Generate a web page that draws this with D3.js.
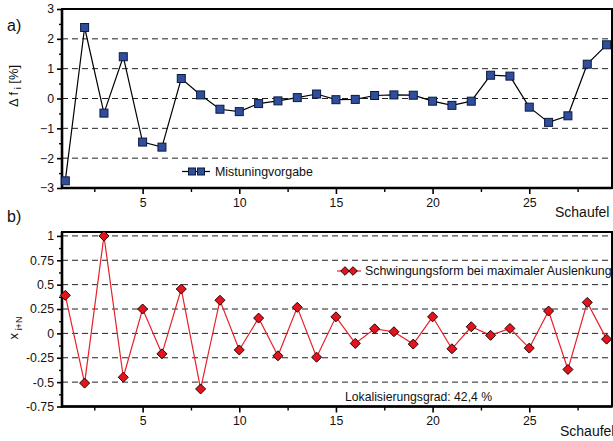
<!DOCTYPE html>
<html>
<head>
<meta charset="utf-8">
<script src="https://cdn.jsdelivr.net/npm/d3@7"></script>
<style>
  html, body { margin: 0; padding: 0; background: #fff; }
  svg { display: block; font-family: "Liberation Sans", Arial, Helvetica, sans-serif; }
</style>
</head>
<body>
<svg id="chart" width="613" height="441"></svg>
<script>
// ---------- data ----------
const blades = d3.range(1, 30);
const mistuning = [-2.76, 2.38, -0.49, 1.40, -1.46, -1.63, 0.67, 0.12, -0.36, -0.44,
  -0.17, -0.08, 0.03, 0.15, -0.04, -0.03, 0.10, 0.12, 0.11, -0.09,
  -0.23, -0.09, 0.78, 0.75, -0.29, -0.80, -0.58, 1.15, 1.80];
const modeShape = [0.39, -0.51, 1.00, -0.45, 0.25, -0.21, 0.455, -0.57, 0.34, -0.17,
  0.157, -0.23, 0.267, -0.244, 0.17, -0.103, 0.047, 0.017, -0.11, 0.17,
  -0.158, 0.068, -0.02, 0.051, -0.151, 0.229, -0.37, 0.318, -0.059];
const xTicks = [5, 10, 15, 20, 25];
const xMinor = [2.5, 7.5, 12.5, 17.5, 22.5, 27.5];
const yTicksA = [-3, -2, -1, 0, 1, 2, 3];
const yMinorA = [-2.5, -1.5, -0.5, 0.5, 1.5, 2.5];
const yGridA = [-2, -1, 0, 1, 2];
const yTicksB = [-0.75, -0.5, -0.25, 0, 0.25, 0.5, 0.75, 1];
const yMinorB = [-0.625, -0.375, -0.125, 0.125, 0.375, 0.625, 0.875];
const yGridB = [-0.5, -0.25, 0, 0.25, 0.5, 0.75, 1];
const legendA = "Mistuningvorgabe";
const legendB = "Schwingungsform bei maximaler Auslenkung";
const noteB = "Lokalisierungsgrad: 42,4 %";
const xTitle = "Schaufel";

const svg = d3.select("#chart");
const L = 62, R = 612;
const x = d3.scaleLinear().domain([0.83, 29.28]).range([L, R]);
const yA = d3.scaleLinear().domain([-3, 3]).range([188, 9]);
const yB = d3.scaleLinear().domain([-0.75, 1.04]).range([406.5, 232]);

const fmtB = d => d === 0 ? "0" : String(d);

function panel(y, yTicks, yMinor, yGrid, fmt, top, bottom) {
  const g = svg.append("g");
  // grid
  g.selectAll("line.grid").data(yGrid).enter().append("line")
    .attr("x1", L).attr("x2", R)
    .attr("y1", d => y(d)).attr("y2", d => y(d))
    .attr("stroke", "#222").attr("stroke-width", 1)
    .attr("stroke-dasharray", "6,4");
  // x axis
  const xa = g.append("g").attr("transform", `translate(0,${bottom})`)
    .call(d3.axisBottom(x).tickValues(xTicks).tickSize(6).tickPadding(4).tickFormat(d3.format("d")));
  xa.select(".domain").remove();
  xa.selectAll(".tick line").attr("stroke", "#000").attr("stroke-width", 1.6);
  xa.selectAll("text").attr("font-size", 12.3).attr("fill", "#111");
  const xm = g.append("g").attr("transform", `translate(0,${bottom})`)
    .call(d3.axisBottom(x).tickValues(xMinor).tickSize(4).tickFormat(""));
  xm.select(".domain").remove();
  xm.selectAll(".tick line").attr("stroke", "#000").attr("stroke-width", 1.4);
  // y axis
  const ya = g.append("g").attr("transform", `translate(${L},0)`)
    .call(d3.axisLeft(y).tickValues(yTicks).tickSize(5).tickPadding(3).tickFormat(fmt));
  ya.select(".domain").remove();
  ya.selectAll(".tick line").attr("stroke", "#000").attr("stroke-width", 1.6);
  ya.selectAll("text").attr("font-size", 12.3).attr("fill", "#111");
  const ym = g.append("g").attr("transform", `translate(${L},0)`)
    .call(d3.axisLeft(y).tickValues(yMinor).tickSize(3).tickFormat(""));
  ym.select(".domain").remove();
  ym.selectAll(".tick line").attr("stroke", "#000").attr("stroke-width", 1.4);
  // frame
  g.append("rect").attr("x", L).attr("y", top).attr("width", R - L).attr("height", bottom - top)
    .attr("fill", "none").attr("stroke", "#000").attr("stroke-width", 2);
  g.append("line").attr("x1", L).attr("x2", L).attr("y1", top).attr("y2", bottom + 1)
    .attr("stroke", "#000").attr("stroke-width", 2.6);
  g.append("line").attr("x1", L - 1).attr("x2", R).attr("y1", bottom).attr("y2", bottom)
    .attr("stroke", "#000").attr("stroke-width", 2.6);
  return g;
}

// ---------- panel a ----------
const gA = panel(yA, yTicksA, yMinorA, yGridA, d3.format("d"), 9, 188);
gA.append("path").datum(mistuning)
  .attr("fill", "none").attr("stroke", "#000").attr("stroke-width", 1.2)
  .attr("d", d3.line().x((d, i) => x(blades[i])).y(d => yA(d)));
const sq = 8;
gA.selectAll("rect.pt").data(mistuning).enter().append("rect")
  .attr("x", (d, i) => x(blades[i]) - sq / 2).attr("y", d => yA(d) - sq / 2)
  .attr("width", sq).attr("height", sq)
  .attr("fill", "#2F4E9C").attr("stroke", "#0d1a3a").attr("stroke-width", 1);
// legend a
svg.append("line").attr("x1", 182).attr("x2", 210).attr("y1", 171.5).attr("y2", 171.5)
  .attr("stroke", "#000").attr("stroke-width", 1.2);
[192, 201].forEach(cx => svg.append("rect").attr("x", cx - 3.5).attr("y", 171.5 - 3.5)
  .attr("width", 7).attr("height", 7).attr("fill", "#2F4E9C").attr("stroke", "#0d1a3a").attr("stroke-width", 1));
svg.append("text").attr("x", 215).attr("y", 171.5).attr("dy", "0.35em")
  .attr("font-size", 12.4).attr("fill", "#111").text(legendA);

// ---------- panel b ----------
const gB = panel(yB, yTicksB, yMinorB, yGridB, fmtB, 232, 406.5);
gB.append("path").datum(modeShape)
  .attr("fill", "none").attr("stroke", "#E8202A").attr("stroke-width", 1.2)
  .attr("d", d3.line().x((d, i) => x(blades[i])).y(d => yB(d)));
const dm = 5;
const diamond = (cx, cy, r) => `M${cx},${cy - r}L${cx + r},${cy}L${cx},${cy + r}L${cx - r},${cy}Z`;
gB.selectAll("path.pt").data(modeShape).enter().append("path")
  .attr("d", (d, i) => diamond(x(blades[i]), yB(d), dm))
  .attr("fill", "#E3141E").attr("stroke", "#200").attr("stroke-width", 1);
// legend b
svg.append("line").attr("x1", 337).attr("x2", 361).attr("y1", 271).attr("y2", 271)
  .attr("stroke", "#E8202A").attr("stroke-width", 1.2);
[345, 353].forEach(cx => svg.append("path").attr("d", diamond(cx, 271, 4.3))
  .attr("fill", "#E3141E").attr("stroke", "#200").attr("stroke-width", 1));
svg.append("text").attr("x", 365).attr("y", 271).attr("dy", "0.35em")
  .attr("font-size", 12.4).attr("fill", "#111").text(legendB);
svg.append("text").attr("x", 345).attr("y", 397).attr("dy", "0.35em")
  .attr("font-size", 12.2).attr("fill", "#111").text(noteB);

// ---------- labels ----------
svg.append("text").attr("x", 7).attr("y", 31).attr("font-size", 16).attr("fill", "#111").text("a)");
svg.append("text").attr("x", 7).attr("y", 222).attr("font-size", 16).attr("fill", "#111").text("b)");
svg.append("text").attr("x", 555).attr("y", 217).attr("font-size", 14).attr("fill", "#111").text(xTitle);
svg.append("text").attr("x", 560).attr("y", 436).attr("font-size", 14).attr("fill", "#111").text(xTitle);

const tA = svg.append("text").attr("transform", "translate(18,86) rotate(-90)")
  .attr("text-anchor", "middle").attr("font-size", 13).attr("fill", "#111");
tA.append("tspan").text("Δ f");
tA.append("tspan").attr("font-size", 9).attr("dy", 3).text(" i");
tA.append("tspan").attr("dy", -3).text(" [%]");

const tB = svg.append("text").attr("transform", "translate(18,328) rotate(-90)")
  .attr("text-anchor", "middle").attr("font-size", 13).attr("fill", "#111");
tB.append("tspan").text("x");
tB.append("tspan").attr("font-size", 9).attr("dy", 4).text(" i+N");
</script>
</body>
</html>
